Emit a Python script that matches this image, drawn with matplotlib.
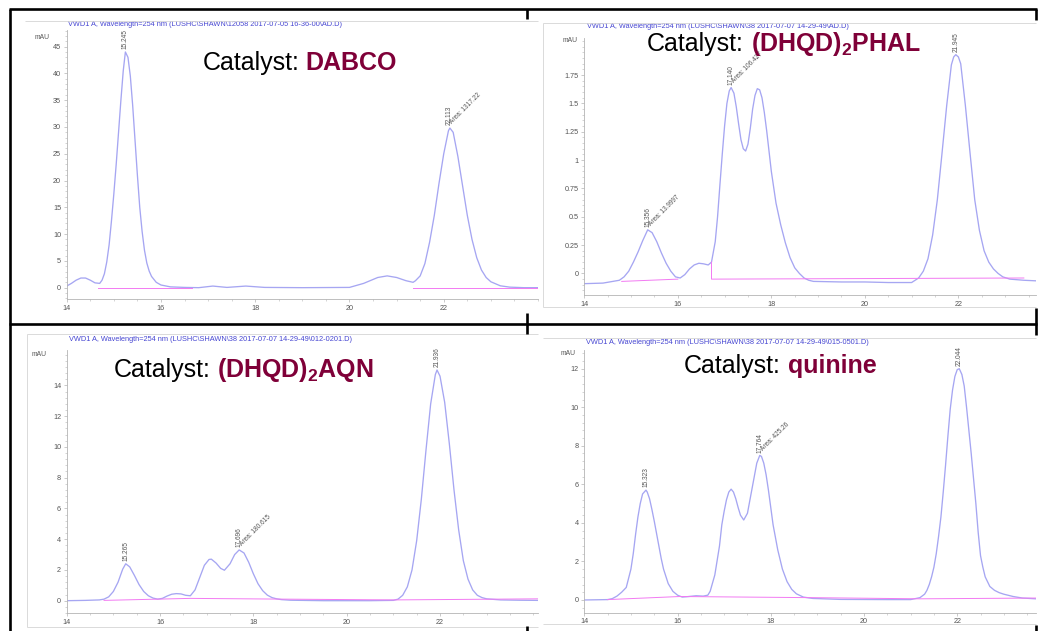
import matplotlib
matplotlib.use('Agg')
import matplotlib.pyplot as plt
from matplotlib.lines import Line2D
from matplotlib.ticker import MultipleLocator, FixedLocator, FuncFormatter

plt.rcParams['font.family'] = ['Liberation Sans', 'DejaVu Sans']
plt.rcParams['mathtext.fontset'] = 'custom'
plt.rcParams['mathtext.rm'] = 'Liberation Sans'
plt.rcParams['mathtext.bf'] = 'Liberation Sans:bold'
plt.rcParams['mathtext.it'] = 'Liberation Sans:italic'

# ---------------- data ----------------
# Panel 1: DABCO
t_dabco = [14.0, 14.1, 14.2, 14.3, 14.4, 14.5, 14.6, 14.7, 14.75, 14.8, 14.85, 14.9, 14.95,
           15.0, 15.05, 15.1, 15.15, 15.2, 15.245, 15.3, 15.35, 15.4, 15.45, 15.5, 15.55,
           15.6, 15.65, 15.7, 15.75, 15.8, 15.9, 16.0, 16.2, 16.5, 16.8, 17.1, 17.4, 17.8,
           18.2, 19.0, 20.0, 20.3, 20.6, 20.8, 21.0, 21.2, 21.35, 21.4, 21.5, 21.6, 21.7,
           21.8, 21.9, 22.0, 22.1, 22.13, 22.2, 22.3, 22.4, 22.5, 22.6, 22.7, 22.8, 22.9,
           23.0, 23.2, 23.4, 23.7, 24.0]
y_dabco = [0.3, 0.8, 1.4, 1.8, 1.8, 1.4, 0.9, 0.8, 1.4, 2.6, 4.8, 8.0, 12.5,
           17.5, 23.0, 29.0, 35.0, 40.5, 44.0, 43.0, 39.5, 34.0, 27.5, 21.0, 15.0,
           10.5, 7.0, 4.6, 3.1, 2.1, 1.0, 0.5, 0.15, 0.05, 0.0, 0.3, 0.05, 0.3,
           0.05, 0.0, 0.05, 0.8, 1.9, 2.2, 1.9, 1.3, 1.0, 1.3, 2.2, 4.5, 8.5,
           13.5, 19.5, 25.0, 29.3, 29.8, 29.0, 24.5, 19.0, 13.5, 9.0, 5.6, 3.3, 1.9,
           1.1, 0.35, 0.1, 0.0, 0.0]
base_dabco = [([14.67, 16.65], [0.0, 0.0]), ([21.35, 24.0], [0.0, 0.0])]
rt_dabco = [(15.245, 44.0, '15.245'), (22.113, 29.8, '22.113')]
area_dabco = [(22.113, 29.8, 'Area: 1317.22')]
yticks_dabco = [0, 5, 10, 15, 20, 25, 30, 35, 40, 45]

# Panel 2: (DHQD)2PHAL
t_phal = [14.0, 14.4, 14.75, 14.85, 14.95, 15.05, 15.15, 15.25, 15.356, 15.45, 15.55, 15.65,
          15.75, 15.85, 15.95, 16.05, 16.15, 16.25, 16.35, 16.45, 16.55, 16.65, 16.72, 16.8,
          16.85, 16.9, 16.95, 17.0, 17.05, 17.1, 17.14, 17.2, 17.25, 17.3, 17.35, 17.4,
          17.45, 17.5, 17.55, 17.6, 17.65, 17.7, 17.75, 17.8, 17.85, 17.9, 17.95, 18.0,
          18.1, 18.2, 18.3, 18.4, 18.5, 18.6, 18.7, 18.8, 18.9, 19.5, 20.0, 20.5, 21.0,
          21.15, 21.25, 21.35, 21.45, 21.55, 21.65, 21.75, 21.85, 21.9, 21.945, 22.0, 22.05,
          22.15, 22.25, 22.35, 22.45, 22.55, 22.65, 22.75, 22.85, 22.95, 23.1, 23.4, 23.66]
y_phal = [-0.09, -0.085, -0.06, -0.03, 0.02, 0.1, 0.19, 0.29, 0.385, 0.36, 0.28, 0.18,
          0.09, 0.02, -0.03, -0.04, -0.01, 0.04, 0.075, 0.09, 0.085, 0.075, 0.1, 0.28,
          0.5, 0.78, 1.05, 1.3, 1.5, 1.61, 1.64, 1.59, 1.47, 1.32, 1.18, 1.1,
          1.08, 1.14, 1.28, 1.45, 1.57, 1.63, 1.62, 1.55, 1.42, 1.26, 1.08, 0.9,
          0.62, 0.43, 0.27, 0.14, 0.05, 0.0, -0.04, -0.06, -0.07, -0.075, -0.075, -0.08, -0.08,
          -0.04, 0.02, 0.13, 0.34, 0.65, 1.06, 1.48, 1.84, 1.91, 1.93, 1.91, 1.85,
          1.48, 1.06, 0.65, 0.38, 0.2, 0.1, 0.04, 0.0, -0.03, -0.05, -0.06, -0.065]
base_phal = [([14.8, 16.0], [-0.07, -0.05]), ([16.72, 16.72, 23.4], [0.1, -0.05, -0.04])]
rt_phal = [(15.356, 0.385, '15.356'), (17.14, 1.64, '17.140'), (21.945, 1.93, '21.945')]
area_phal = [(15.356, 0.385, 'Area: 13.9997'), (17.14, 1.64, 'Area: 106.427')]
yticks_phal = [0, 0.25, 0.5, 0.75, 1, 1.25, 1.5, 1.75]

# Panel 3: (DHQD)2AQN
t_aqn = [14.0, 14.4, 14.7, 14.8, 14.9, 15.0, 15.1, 15.2, 15.265, 15.35, 15.45, 15.55, 15.65,
         15.75, 15.85, 15.95, 16.05, 16.15, 16.25, 16.35, 16.45, 16.55, 16.65, 16.75, 16.85,
         16.95, 17.05, 17.1, 17.2, 17.3, 17.38, 17.5, 17.6, 17.696, 17.8, 17.9, 18.0, 18.1,
         18.2, 18.3, 18.4, 18.5, 18.6, 18.8, 19.5, 20.5, 21.0, 21.1, 21.2, 21.3, 21.4, 21.5,
         21.6, 21.7, 21.8, 21.9, 21.936, 22.0, 22.1, 22.2, 22.3, 22.4, 22.5, 22.6, 22.7,
         22.8, 22.9, 23.0, 23.3, 23.7, 24.1]
y_aqn = [0.0, 0.02, 0.05, 0.1, 0.25, 0.6, 1.2, 2.05, 2.4, 2.2, 1.65, 1.05, 0.6,
         0.32, 0.17, 0.1, 0.15, 0.3, 0.42, 0.46, 0.44, 0.35, 0.32, 0.7, 1.5,
         2.3, 2.68, 2.7, 2.45, 2.1, 1.98, 2.4, 3.0, 3.3, 3.1, 2.5, 1.75, 1.1,
         0.65, 0.36, 0.2, 0.12, 0.07, 0.03, 0.0, 0.0, 0.02, 0.1, 0.35, 0.9, 2.0, 3.9,
         6.6, 9.8, 12.8, 14.7, 15.0, 14.6, 12.9, 10.2, 7.2, 4.6, 2.6, 1.4, 0.7,
         0.35, 0.2, 0.12, 0.05, 0.03, 0.02]
base_aqn = [([14.8, 16.65, 18.7, 21.0, 24.1], [0.02, 0.15, 0.1, 0.05, 0.12])]
rt_aqn = [(15.265, 2.4, '15.265'), (17.696, 3.3, '17.696'), (21.936, 15.0, '21.936')]
area_aqn = [(17.696, 3.3, 'Area: 180.615')]
yticks_aqn = [0, 2, 4, 6, 8, 10, 12, 14]

# Panel 4: quinine
t_quin = [14.0, 14.5, 14.6, 14.7, 14.8, 14.9, 15.0, 15.05, 15.1, 15.15, 15.2, 15.25, 15.323,
          15.35, 15.4, 15.45, 15.5, 15.55, 15.6, 15.65, 15.7, 15.8, 15.9, 16.0, 16.1, 16.2,
          16.4, 16.55, 16.65, 16.7, 16.8, 16.9, 16.95, 17.0, 17.05, 17.1, 17.15, 17.2, 17.25,
          17.3, 17.35, 17.42, 17.5, 17.6, 17.7, 17.764, 17.8, 17.85, 17.9, 17.95, 18.0, 18.05,
          18.15, 18.25, 18.35, 18.45, 18.55, 18.7, 18.9, 19.5, 20.5, 21.0, 21.2, 21.3, 21.35,
          21.4, 21.45, 21.5, 21.55, 21.6, 21.65, 21.7, 21.75, 21.8, 21.85, 21.9, 21.95, 22.0,
          22.044, 22.1, 22.15, 22.2, 22.25, 22.3, 22.35, 22.4, 22.45, 22.5, 22.55, 22.6, 22.7,
          22.8, 22.9, 23.0, 23.2, 23.4, 23.69]
y_quin = [0.0, 0.02, 0.07, 0.2, 0.4, 0.65, 1.6, 2.4, 3.4, 4.3, 5.0, 5.5, 5.7,
          5.6, 5.25, 4.7, 4.1, 3.45, 2.8, 2.15, 1.6, 0.85, 0.45, 0.25, 0.15, 0.17,
          0.22, 0.2, 0.25, 0.45, 1.3, 2.8, 3.9, 4.6, 5.2, 5.6, 5.75, 5.6, 5.25,
          4.8, 4.4, 4.15, 4.5, 5.8, 7.1, 7.5, 7.45, 7.1, 6.5, 5.7, 4.8, 3.9,
          2.6, 1.6, 0.95, 0.55, 0.32, 0.15, 0.08, 0.03, 0.02, 0.02, 0.12, 0.3, 0.5,
          0.8, 1.2, 1.7, 2.4, 3.3, 4.3, 5.6, 7.0, 8.5, 9.9, 10.9, 11.6, 11.95,
          12.0, 11.7, 11.1, 10.0, 8.8, 7.6, 6.3, 5.0, 3.5, 2.3, 1.7, 1.2, 0.7,
          0.5, 0.38, 0.3, 0.18, 0.1, 0.06]
base_quin = [([14.5, 16.05, 18.9, 21.2, 23.69], [0.02, 0.18, 0.12, 0.06, 0.1])]
rt_quin = [(15.323, 5.7, '15.323'), (17.764, 7.5, '17.764'), (22.044, 12.0, '22.044')]
area_quin = [(17.764, 7.5, 'Area: 425.26')]
yticks_quin = [0, 2, 4, 6, 8, 10, 12]

xticks_min = [14, 16, 18, 20, 22]

headers = ['VWD1 A, Wavelength=254 nm (LUSHC\\SHAWN\\12058 2017-07-05 16-36-00\\AD.D)',
           'VWD1 A, Wavelength=254 nm (LUSHC\\SHAWN\\38 2017-07-07 14-29-49\\AD.D)',
           'VWD1 A, Wavelength=254 nm (LUSHC\\SHAWN\\38 2017-07-07 14-29-49\\012-0201.D)',
           'VWD1 A, Wavelength=254 nm (LUSHC\\SHAWN\\38 2017-07-07 14-29-49\\015-0501.D)']
catalysts = ['DABCO', r'$\mathbf{(DHQD)_2PHAL}$', r'$\mathbf{(DHQD)_2AQN}$', 'quinine']

# ---------------- drawing ----------------
W, H = 1038, 631
fig = plt.figure(figsize=(W / 100, H / 100), dpi=100)
fig.patch.set_facecolor('white')

def fx(x):
    return x / W

def fy(y):
    return 1 - y / H

def fline(xs, ys, color, lw, z=5):
    fig.add_artist(Line2D([fx(v) for v in xs], [fy(v) for v in ys],
                          transform=fig.transFigure, color=color, lw=lw,
                          solid_capstyle='butt', zorder=z))

CURVE = '#a6a6f2'
BASE = '#f27af2'
AX = '#b4b4b4'
TXT = '#555555'
HEAD = '#4646d2'
NAME = '#7f0038'

def panel(rect, xlim, ylim, t, y, bases, yticks, yminor, rts, areas):
    L, T, R, B = rect
    ax = fig.add_axes([fx(L), fy(B), (R - L) / W, (B - T) / H])
    ax.set_facecolor('none')
    ax.plot(t, y, color=CURVE, lw=0.95, clip_on=True)
    for bt, by in bases:
        ax.plot(bt, by, color=BASE, lw=0.7)
    ax.set_xlim(*xlim)
    ax.set_ylim(*ylim)
    for s in ['top', 'right']:
        ax.spines[s].set_visible(False)
    for s in ['left', 'bottom']:
        ax.spines[s].set_color(AX)
        ax.spines[s].set_linewidth(0.6)
    ax.xaxis.set_major_locator(FixedLocator(xticks_min))
    ax.xaxis.set_minor_locator(MultipleLocator(0.5))
    ax.yaxis.set_major_locator(FixedLocator(yticks))
    ax.yaxis.set_minor_locator(MultipleLocator(yminor))
    ax.yaxis.set_major_formatter(FuncFormatter(lambda v, p: '%g' % v))
    ax.tick_params(which='major', length=2.5, width=0.5, color=AX, labelsize=5.2,
                   labelcolor=TXT, pad=1.5)
    ax.tick_params(which='minor', length=1.3, width=0.4, color=AX)
    for (tt, hh, lab) in rts:
        ax.annotate(lab, xy=(tt, hh), xytext=(0, 2), textcoords='offset points',
                    rotation=90, ha='center', va='bottom', fontsize=4.7, color=TXT)
    for (tt, hh, lab) in areas:
        ax.annotate(lab, xy=(tt, hh), xytext=(3.2, 2.0), textcoords='offset points',
                    rotation=45, rotation_mode='anchor', ha='left', va='bottom',
                    fontsize=4.7, color=TXT)
    return ax

# axes rectangles in pixel coordinates (left, top, right, bottom)
ax1 = panel((66.7, 30, 538, 299.3), (14, 24.0), (-2.17, 48.1), t_dabco, y_dabco,
            base_dabco, yticks_dabco, 1, rt_dabco, area_dabco)
ax2 = panel((584.3, 38, 1036, 295), (14, 23.66), (-0.19, 2.077), t_phal, y_phal,
            base_phal, yticks_phal, 0.05, rt_phal, area_phal)
ax3 = panel((66.7, 350, 538, 613.3), (14, 24.1), (-0.82, 16.3), t_aqn, y_aqn,
            base_aqn, yticks_aqn, 0.4, rt_aqn, area_aqn)
ax4 = panel((584.3, 350, 1036, 612.7), (14, 23.69), (-0.66, 12.97), t_quin, y_quin,
            base_quin, yticks_quin, 0.4, rt_quin, area_quin)

# light gray frames of the pasted screenshots
G = '#d4d4d4'
fline([25, 538], [21, 21], G, 0.6)
fline([543, 1036], [22.7, 22.7], G, 0.6)
fline([543, 543], [22.7, 307.3], G, 0.6)
fline([543, 1036], [307.3, 307.3], G, 0.6)
fline([27, 538], [334, 334], G, 0.6)
fline([27, 27], [334, 627], G, 0.6)
fline([27, 538], [627, 627], G, 0.6)
fline([543, 1036], [338.3, 338.3], G, 0.6)
fline([543, 1036], [624, 624], G, 0.6)

# black table borders
K = 'black'
BW = 1.9
fline([8.5, 1037], [9.2, 9.2], K, BW)
fline([9.5, 9.5], [8.5, 631], K, BW)
fline([8.5, 1037], [323.5, 323.5], K, BW)
fline([527.2, 527.2], [8.5, 18.5], K, BW)
fline([527.2, 527.2], [313, 334], K, BW)
fline([527.2, 527.2], [626, 631], K, BW)
fline([1036, 1036], [8.5, 20], K, BW)
fline([1036, 1036], [308, 335], K, BW)
fline([1036, 1036], [625, 631], K, BW)

# header lines (blue)
for (hx, hy), s in zip([(68, 24), (586.7, 26.7), (69.3, 339.3), (586, 342.7)], headers):
    fig.text(fx(hx), fy(hy), s, fontsize=5.35, color=HEAD, ha='left', va='center')

# mAU labels
for (mx, my) in [(41.7, 37.3), (570, 40.7), (39, 354), (567.7, 353.3)]:
    fig.text(fx(mx), fy(my), 'mAU', fontsize=4.9, color=TXT, ha='center', va='center')

# Catalyst titles
for (cx, nx, by), name in zip([(203, 305, 70), (646.7, 751, 50.7),
                               (113.3, 216.7, 377.3), (683.3, 788.3, 373.3)], catalysts):
    fig.text(fx(cx), fy(by), 'Catalyst:', fontsize=18, color='black',
             ha='left', va='baseline')
    fig.text(fx(nx), fy(by), name, fontsize=18, color=NAME, fontweight='bold',
             ha='left', va='baseline')

fig.savefig('out.png', dpi=100, facecolor='white')
